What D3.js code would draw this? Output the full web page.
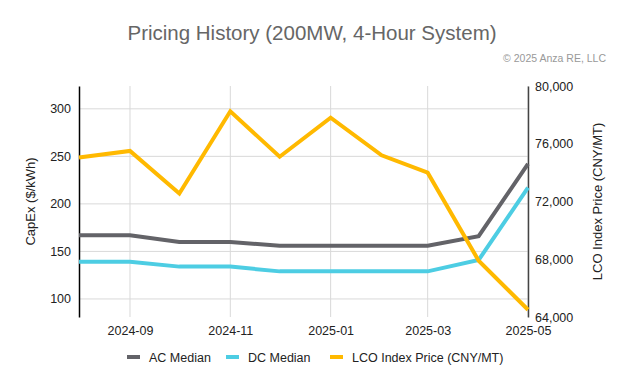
<!DOCTYPE html>
<html lang="en">
<head>
<meta charset="UTF-8">
<title>Pricing History</title>
<script src="https://d3js.org/d3.v7.min.js"></script>
<style>
  body { margin: 0; background: #fff; }
  text { font-family: "Liberation Sans", Arial, sans-serif; }
</style>
</head>
<body>
<div id="chart"></div>
<script>
// data
const months = ["2024-08","2024-09","2024-10","2024-11","2024-12","2025-01","2025-02","2025-03","2025-04","2025-05"];
const acMedian = [167, 167, 160, 160, 156, 156, 156, 156, 166, 242];
const dcMedian = [139, 139, 134, 134, 129, 129, 129, 129, 141, 217];
const lcoPrice = [75050, 75500, 72550, 78250, 75100, 77800, 75200, 74000, 67900, 64500];
const xTicks = ["2024-09","2024-11","2025-01","2025-03","2025-05"];
const leftTicks = [100, 150, 200, 250, 300];
const rightTicks = [64000, 68000, 72000, 76000, 80000];

const W = 624, H = 385;
const margin = { top: 86, right: 96, bottom: 68, left: 79 };
const width = W - margin.left - margin.right,
      height = H - margin.top - margin.bottom;

const parse = d3.timeParse("%Y-%m");
const dates = months.map(parse);

const svg = d3.select("#chart").append("svg")
    .attr("width", W).attr("height", H);

const g = svg.append("g").attr("transform", `translate(${margin.left},${margin.top})`);

const x = d3.scaleTime().domain(d3.extent(dates)).range([0, width]);
const yL = d3.scaleLinear().domain([81, 324]).range([height, 0]);
const yR = d3.scaleLinear().domain([64000, 80000]).range([height, 0]);

// title + credit
svg.append("text").attr("x", W / 2).attr("y", 40)
   .attr("text-anchor", "middle").attr("font-size", 20.5).attr("fill", "#666")
   .text("Pricing History (200MW, 4-Hour System)");
svg.append("text").attr("x", 606).attr("y", 62)
   .attr("text-anchor", "end").attr("font-size", 10.5).attr("fill", "#999")
   .text("\u00a9 2025 Anza RE, LLC");

// grid
g.append("g").selectAll("line").data(leftTicks).join("line")
  .attr("x1", 0).attr("x2", width)
  .attr("y1", d => yL(d)).attr("y2", d => yL(d))
  .attr("stroke", "#d9d9d9").attr("stroke-width", 1);
g.append("g").selectAll("line").data(xTicks.map(parse)).join("line")
  .attr("x1", d => x(d)).attr("x2", d => x(d))
  .attr("y1", 0).attr("y2", height)
  .attr("stroke", "#d9d9d9").attr("stroke-width", 1);

// axes
const xAxis = g.append("g").attr("transform", `translate(0,${height})`)
  .call(d3.axisBottom(x).tickValues(xTicks.map(parse)).tickFormat(d3.timeFormat("%Y-%m")).tickSize(0).tickPadding(9));
xAxis.select(".domain").remove();

const leftAxis = g.append("g")
  .call(d3.axisLeft(yL).tickValues(leftTicks).tickSize(0).tickPadding(8));
leftAxis.select(".domain").attr("stroke", "#000").attr("stroke-width", 1.5);

const rightAxis = g.append("g").attr("transform", `translate(${width},0)`)
  .call(d3.axisRight(yR).tickValues(rightTicks).tickFormat(d3.format(",")).tickSize(0).tickPadding(7));
rightAxis.select(".domain").attr("stroke", "#444").attr("stroke-width", 1.5);

svg.selectAll(".tick text").attr("font-size", 12.5).attr("fill", "#222")
   .attr("font-family", "Liberation Sans, Arial, sans-serif");

// axis titles
svg.append("text")
   .attr("transform", `translate(35,${margin.top + height / 2}) rotate(-90)`)
   .attr("text-anchor", "middle").attr("font-size", 13).attr("fill", "#222")
   .text("CapEx ($/kWh)");
svg.append("text")
   .attr("transform", `translate(602,${margin.top + height / 2}) rotate(-90)`)
   .attr("text-anchor", "middle").attr("font-size", 13).attr("fill", "#222")
   .text("LCO Index Price (CNY/MT)");

// lines
const series = [
  { name: "AC Median", values: acMedian, scale: yL, color: "#636368" },
  { name: "DC Median", values: dcMedian, scale: yL, color: "#4dcde3" },
  { name: "LCO Index Price (CNY/MT)", values: lcoPrice, scale: yR, color: "#ffb900" }
];

series.forEach(s => {
  const line = d3.line().x((d, i) => x(dates[i])).y(d => s.scale(d));
  g.append("path").datum(s.values)
    .attr("fill", "none").attr("stroke", s.color)
    .attr("stroke-width", 4).attr("stroke-linejoin", "miter")
    .attr("d", line);
});

// legend
const legendX = [127, 226, 330];
const legend = svg.append("g").attr("transform", "translate(0,357)");
series.forEach((s, i) => {
  legend.append("rect").attr("x", legendX[i]).attr("y", -2)
    .attr("width", 13).attr("height", 4).attr("fill", s.color);
  legend.append("text").attr("x", legendX[i] + 22).attr("y", 4.5)
    .attr("font-size", 12.5).attr("fill", "#222").text(s.name);
});
</script>
</body>
</html>
